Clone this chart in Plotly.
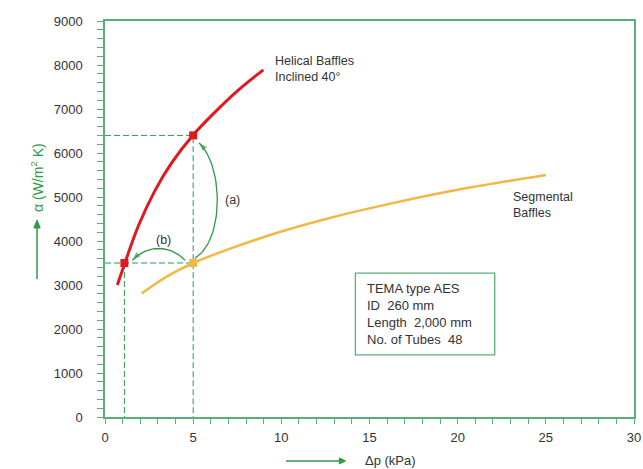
import plotly.graph_objects as go

# ---- data ----
helical_dp = [0.7, 1.13, 1.89, 2.84, 3.79, 5.0, 6.24, 7.56, 8.98]
helical_alpha = [3000, 3500, 4340, 5150, 5780, 6410, 6930, 7430, 7890]

segmental_dp = [2.08, 3.5, 5.0, 7.1, 9.9, 12.8, 16.0, 20.3, 25.0]
segmental_alpha = [2810, 3190, 3500, 3826, 4204, 4530, 4833, 5186, 5500]

# operating points
hel_pts_dp = [1.1, 5.0]
hel_pts_alpha = [3500, 6400]
seg_pt_dp = [5.0]
seg_pt_alpha = [3500]

x_ticks = [0, 5, 10, 15, 20, 25, 30]
y_ticks = [0, 1000, 2000, 3000, 4000, 5000, 6000, 7000, 8000, 9000]

info_lines = ["TEMA type AES", "ID  260 mm", "Length  2,000 mm", "No. of Tubes  48"]

GREEN = "#5aaf78"
DGREEN = "#2f9a48"
RED = "#e0181f"
YEL = "#f2b845"
TXT = "#333333"
FONT = "Liberation Sans, Arial, sans-serif"


def bezier(p0, c1, c2, p1, n=40):
    xs, ys = [], []
    for i in range(n + 1):
        t = i / n
        u = 1 - t
        xs.append(u**3 * p0[0] + 3 * u**2 * t * c1[0] + 3 * u * t**2 * c2[0] + t**3 * p1[0])
        ys.append(u**3 * p0[1] + 3 * u**2 * t * c1[1] + 3 * u * t**2 * c2[1] + t**3 * p1[1])
    return xs, ys


fig = go.Figure()

# dashed guide lines
gl = dict(color=DGREEN, width=1, dash="6px,3px")
fig.add_trace(go.Scatter(x=[0, hel_pts_dp[1], hel_pts_dp[1]], y=[hel_pts_alpha[1], hel_pts_alpha[1], 0],
                         mode="lines", line=gl, hoverinfo="skip"))
fig.add_trace(go.Scatter(x=[0, seg_pt_dp[0]], y=[seg_pt_alpha[0], seg_pt_alpha[0]],
                         mode="lines", line=gl, hoverinfo="skip"))
fig.add_trace(go.Scatter(x=[hel_pts_dp[0], hel_pts_dp[0]], y=[hel_pts_alpha[0], 0],
                         mode="lines", line=gl, hoverinfo="skip"))

# curves
fig.add_trace(go.Scatter(x=segmental_dp, y=segmental_alpha, mode="lines",
                         line=dict(color=YEL, width=2.5, shape="spline", smoothing=0.8), hoverinfo="skip"))
fig.add_trace(go.Scatter(x=helical_dp, y=helical_alpha, mode="lines",
                         line=dict(color=RED, width=3, shape="spline", smoothing=1.0), hoverinfo="skip"))

# curved arrows (a) and (b), derived from the operating points
sx, sy = seg_pt_dp[0], seg_pt_alpha[0]
ex, ey = hel_pts_dp[1], hel_pts_alpha[1]
lx, ly = hel_pts_dp[0], hel_pts_alpha[0]
ax_, ay_ = bezier((sx + 0.1, sy + 110), (sx + 1.75, sy + 500), (sx + 1.75, ey - 700), (ex + 0.33, ey - 170))
bx_, by_ = bezier((sx - 0.45, sy + 60), (sx - 1.3, sy + 420), (lx + 1.3, ly + 420), (lx + 0.45, ly + 60))
for xs, ys in ((ax_, ay_), (bx_, by_)):
    sizes = [0] * (len(xs) - 1) + [9]
    fig.add_trace(go.Scatter(x=xs, y=ys, mode="lines+markers",
                             line=dict(color=DGREEN, width=1.3),
                             marker=dict(symbol="arrow", size=sizes, color=DGREEN, angleref="previous",
                                         line=dict(width=0)),
                             hoverinfo="skip"))

# markers
fig.add_trace(go.Scatter(x=seg_pt_dp, y=seg_pt_alpha, mode="markers",
                         marker=dict(symbol="square", size=8, color=YEL), hoverinfo="skip"))
fig.add_trace(go.Scatter(x=hel_pts_dp, y=hel_pts_alpha, mode="markers",
                         marker=dict(symbol="square", size=8, color=RED), hoverinfo="skip"))

shapes = [
    # info box
    dict(type="rect", xref="x", yref="y", x0=14.2, x1=22.1, y0=1410, y1=3270,
         line=dict(color=GREEN, width=1.3), fillcolor="rgba(0,0,0,0)", layer="below"),
    # y-axis title arrow
    dict(type="line", xref="paper", yref="paper", x0=-0.1285, x1=-0.1285, y0=0.3485, y1=0.485,
         line=dict(color=DGREEN, width=1.5)),
    dict(type="path", xref="paper", yref="paper",
         path="M -0.1285,0.4975 L -0.1345,0.4773 L -0.1225,0.4773 Z",
         fillcolor=DGREEN, line=dict(color=DGREEN, width=1)),
    # x-axis title arrow
    dict(type="line", xref="paper", yref="paper", x0=0.342, x1=0.447, y0=-0.111, y1=-0.111,
         line=dict(color=DGREEN, width=1.5)),
    dict(type="path", xref="paper", yref="paper",
         path="M 0.455,-0.111 L 0.443,-0.1034 L 0.443,-0.1186 Z",
         fillcolor=DGREEN, line=dict(color=DGREEN, width=1)),
]

annotations = [
    dict(x=7.25, y=4930, xref="x", yref="y", text="(a)", showarrow=False,
         font=dict(size=12.5, color=TXT, family=FONT)),
    dict(x=3.3, y=4030, xref="x", yref="y", text="(b)", showarrow=False,
         font=dict(size=12.5, color=TXT, family=FONT)),
    dict(x=9.55, y=7920, xref="x", yref="y", text="Helical Baffles<br>Inclined 40°",
         showarrow=False, xanchor="left", align="left",
         font=dict(size=12.5, color=TXT, family=FONT)),
    dict(x=23.0, y=4820, xref="x", yref="y", text="Segmental<br>Baffles",
         showarrow=False, xanchor="left", align="left",
         font=dict(size=12.5, color=TXT, family=FONT)),
    dict(x=14.75, y=2340, xref="x", yref="y", text="<br>".join(info_lines),
         showarrow=False, xanchor="left", yanchor="middle", align="left",
         font=dict(size=13, color=TXT, family=FONT)),
    # axis titles
    dict(x=-0.1285, y=0.6035, xref="paper", yref="paper", text="α (W/m<sup>2</sup> K)",
         textangle=-90, showarrow=False, xanchor="center", yanchor="middle",
         font=dict(size=14, color=DGREEN, family=FONT)),
    dict(x=0.539, y=-0.111, xref="paper", yref="paper", text="Δp (kPa)",
         showarrow=False, xanchor="center", yanchor="middle",
         font=dict(size=13, color=TXT, family=FONT)),
]

fig.update_layout(
    width=643, height=469,
    margin=dict(l=105, r=9, t=21, b=52, autoexpand=False),
    plot_bgcolor="white", paper_bgcolor="white",
    showlegend=False,
    shapes=shapes, annotations=annotations,
    font=dict(family=FONT, color=TXT, size=13),
    xaxis=dict(range=[0, 30], tickvals=x_ticks, ticktext=[str(v) for v in x_ticks],
               automargin=False,
               showgrid=False, zeroline=False, showline=True, linecolor=GREEN, linewidth=1.5,
               mirror=True, ticks="outside", ticklen=5, tickcolor=GREEN, tickwidth=1.2,
               ticklabelstandoff=3,
               minor=dict(dtick=1, ticks="outside", ticklen=5, tickcolor=GREEN, tickwidth=1.2),
               tickfont=dict(size=13, color=TXT)),
    yaxis=dict(range=[0, 9000], tickvals=y_ticks, ticktext=[str(v) for v in y_ticks],
               automargin=False,
               showgrid=False, zeroline=False, showline=True, linecolor=GREEN, linewidth=1.5,
               mirror=True, ticks="outside", ticklen=6, tickcolor=GREEN, tickwidth=1.2,
               ticklabelstandoff=12,
               minor=dict(dtick=200, ticks="outside", ticklen=6, tickcolor=GREEN, tickwidth=1.2),
               tickfont=dict(size=13, color=TXT)),
)

fig.write_html("out.html", config={"displayModeBar": False},
               post_script="document.body.style.margin='0';document.body.style.overflow='hidden';")
